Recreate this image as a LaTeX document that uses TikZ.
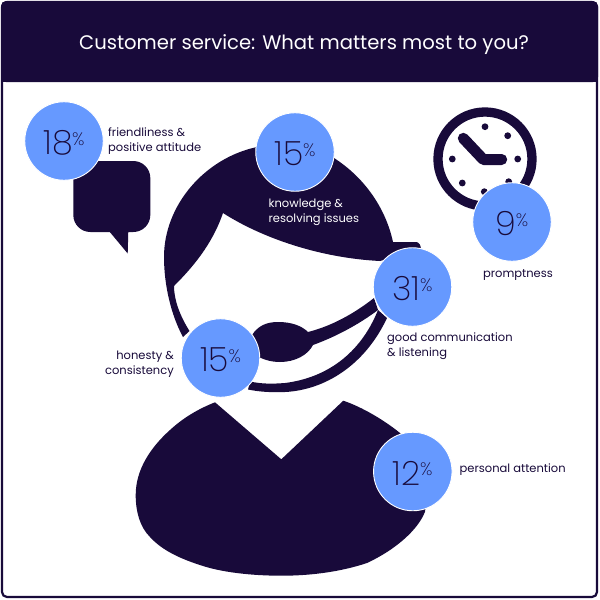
\documentclass[tikz,border=0pt]{standalone}
\usepackage{fontspec}
\setmainfont{Poppins}
\newfontfamily\lightfont{Poppins ExtraLight}
\definecolor{ink}{HTML}{180A3A}
\definecolor{disc}{HTML}{6699FF}
\newcommand{\pct}[1]{\raisebox{-13.5pt}[0pt][0pt]{\lightfont\fontsize{33.5}{33.5}\selectfont #1\kern-0.5pt\raisebox{9.5pt}{\fontsize{18}{18}\selectfont\%}}}
\tikzset{
  shape fill/.style={fill=ink,draw=none},
  stat/.style={circle,fill=disc,draw=white,line width=0.9pt,minimum size=78.5pt,inner sep=0pt,text=ink},
  label text/.style={font=\fontsize{11.5}{14.8}\selectfont,text=ink,align=left,inner sep=0pt},
  label white/.style={label text,text=white},
  dotmark/.style={fill=ink,draw=none}
}
\begin{document}
\begin{tikzpicture}[x=1pt,y=-1pt]
\useasboundingbox (0,0) rectangle (600,600);
\fill[white] (0,0) rectangle (600,600);
% frame + header
\draw[ink,line width=2.2pt,rounded corners=5pt] (2,2) rectangle (597,597);
\fill[ink,rounded corners=5pt] (1,1) -- (598,1) -- (598,82) -- (1,82) -- cycle;
\fill[ink] (1,40) rectangle (598,82);
\node[font=\fontsize{19.6}{24}\selectfont,text=white,inner sep=0pt] (title) at (304,45) {Customer service: What matters most to you?};
% bubble
\fill[ink,rounded corners=17pt] (73.3,161) rectangle (150.3,232);
\fill[ink] (109,231) -- (127.7,253.5) -- (128.3,231) -- cycle;
% clock
\draw[ink,line width=9.3pt] (485,159) circle (47);
\foreach \px/\py in {485/126.7,507.7/135.7,517.7/159,508.7/181.7,484.3/191.7,462.3/183,452.3/159}
  \fill[dotmark] (\px,\py) circle (3.4);
\draw[ink,line width=11pt,line cap=round,line join=round] (463.3,138.3) -- (483.3,159.5) -- (501.7,159.5);
% hair and head outline
\fill[shape fill] (189.5,331)
  .. controls (180,316) and (174,300) .. (174,286)
  .. controls (192,268) and (212,245) .. (223,213)
  .. controls (262,238) and (320,258) .. (380,261)
  -- (421,250) .. controls (421,245) and (419,242) .. (416,242) -- (393,242)
  .. controls (385,205) and (360,170) .. (320,150)
  .. controls (300,142) and (280,144) .. (257,147)
  .. controls (205,158) and (164,205) .. (164,257)
  .. controls (164,285) and (171,315) .. (183,337) -- cycle;
% lower headband
\fill[shape fill] (250,381.5)
  .. controls (262,384) and (272,384) .. (285,383)
  .. controls (325,378) and (360,355) .. (378,310)
  -- (387,318)
  .. controls (365,365) and (325,390) .. (285,392)
  .. controls (272,392.5) and (260,392) .. (248,389.5) -- cycle;
% microphone
\fill[shape fill] (252,335)
  .. controls (258,326) and (266,322) .. (278,322)
  .. controls (292,322) and (302,326) .. (308,332)
  .. controls (332,326) and (355,313) .. (374,298)
  -- (378,310)
  .. controls (358,325) and (335,337) .. (313,345)
  .. controls (308,355) and (295,362) .. (280,362)
  .. controls (270,362) and (262,359) .. (255,355) -- cycle;
% body
\fill[shape fill] (215,402.3) -- (281.3,459.3) -- (343.3,400.7)
  .. controls (362,407) and (384,420) .. (400,433)
  .. controls (417,450) and (430,485) .. (425,511.7)
  .. controls (418,530) and (395,550) .. (367,563)
  .. controls (340,572) and (310,575.7) .. (281.7,575.7)
  .. controls (250,575.7) and (220,572) .. (200,565)
  .. controls (175,557) and (160,548) .. (150,537)
  .. controls (140,527) and (135.7,512) .. (135.7,495)
  .. controls (135.7,470) and (150,448) .. (170,430)
  .. controls (183,418) and (198,409) .. (215,402.3) -- cycle;
% stats
\node[stat] (s18) at (64,141) {\pct{18}};
\node[stat] (s15a) at (295,152) {\pct{15}};
\node[stat] (s31) at (412.5,287) {\pct{31}};
\node[stat] (s15b) at (220.5,358) {\pct{15}};
\node[stat] (s9) at (512,222) {\pct{9}};
\node[stat] (s12) at (412.8,471.5) {\pct{12}};
% labels
\node[label text,anchor=west] (l18) at (108,141) {friendliness \&\\positive attitude};
\node[label white,anchor=west] (l15a) at (268.5,212) {knowledge \&\\resolving issues};
\node[label text,anchor=north] (l9) at (518,269) {promptness};
\node[label text,anchor=west] (l31) at (387,346) {good communication\\\& listening};
\node[label text,anchor=east,align=right] (l15b) at (174,364) {honesty \&\\consistency};
\node[label text,anchor=west] (l12) at (459.5,470) {personal attention};
\end{tikzpicture}
\end{document}
